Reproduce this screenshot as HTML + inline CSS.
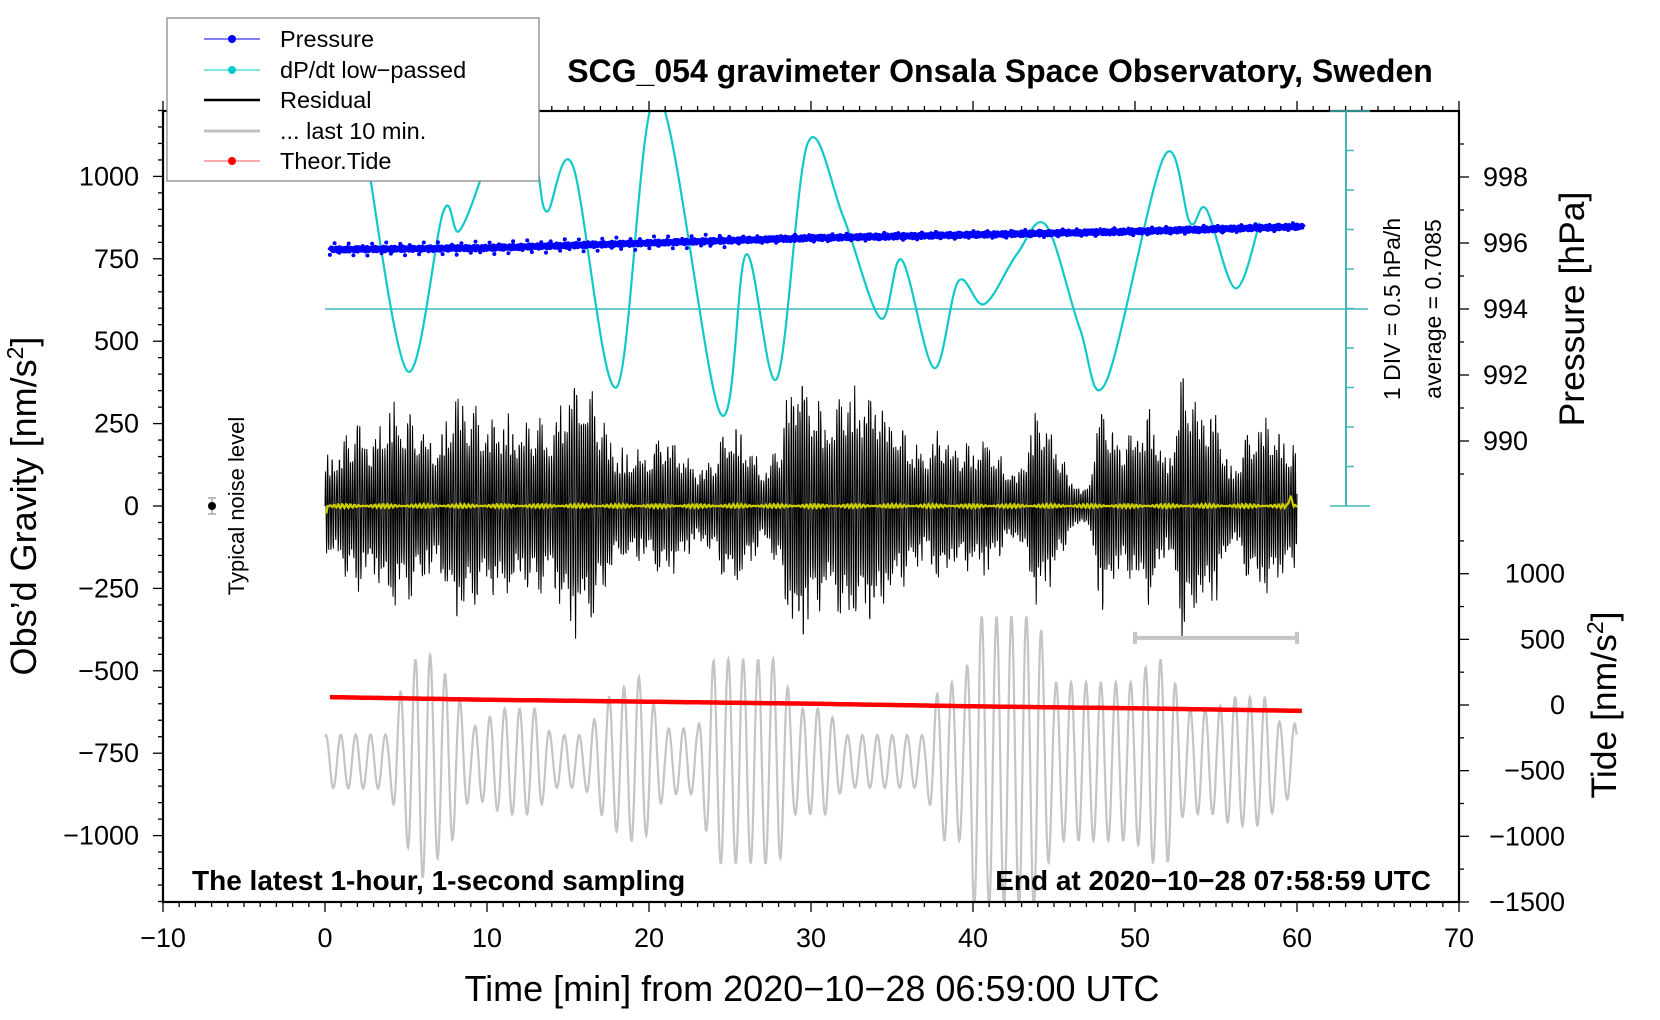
<!DOCTYPE html>
<html><head><meta charset="utf-8"><style>
html,body{margin:0;padding:0;background:#fff;}
svg{display:block;font-family:"Liberation Sans",Arial,sans-serif;}
</style></head><body>
<svg id="chart" width="1660" height="1020" viewBox="0 0 1660 1020" xmlns="http://www.w3.org/2000/svg">
<defs><clipPath id="plotclip"><rect x="163" y="111" width="1296" height="791"/></clipPath></defs>
<g id="series" clip-path="url(#plotclip)"></g>
<g id="axes"></g>
<text x="1000" y="82" text-anchor="middle" font-size="32" font-weight="bold">SCG_054 gravimeter Onsala Space Observatory, Sweden</text>
<text x="812" y="1001" text-anchor="middle" font-size="36">Time [min] from 2020−10−28 06:59:00 UTC</text>
<text transform="translate(36,506) rotate(-90)" text-anchor="middle" font-size="36">Obs’d Gravity [nm/s<tspan font-size="23" dy="-13">2</tspan><tspan dy="13">]</tspan></text>
<text transform="translate(1584,309) rotate(-90)" text-anchor="middle" font-size="35.5">Pressure [hPa]</text>
<text transform="translate(1616,705) rotate(-90)" text-anchor="middle" font-size="35.5">Tide [nm/s<tspan font-size="23" dy="-13">2</tspan><tspan dy="13">]</tspan></text>
<text transform="translate(1400,309) rotate(-90)" text-anchor="middle" font-size="23">1 DIV = 0.5 hPa/h</text>
<text transform="translate(1441,309) rotate(-90)" text-anchor="middle" font-size="23">average = 0.7085</text>
<text transform="translate(244,506) rotate(-90)" text-anchor="middle" font-size="22">Typical noise level</text>
<line x1="212" y1="498" x2="212" y2="514" stroke="#bbb" stroke-width="2"/>
<line x1="208" y1="498" x2="216" y2="498" stroke="#bbb" stroke-width="2"/>
<line x1="208" y1="514" x2="216" y2="514" stroke="#bbb" stroke-width="2"/>
<circle cx="212" cy="506" r="4" fill="#000"/>
<text x="192" y="890" font-size="28" font-weight="bold">The latest 1-hour, 1-second sampling</text>
<text x="1431" y="890" text-anchor="end" font-size="28" font-weight="bold">End at 2020−10−28 07:58:59 UTC</text>
<g>
<rect x="167" y="18" width="372" height="163" fill="#fff" stroke="#888" stroke-width="1.3"/>
<g><line x1="204" y1="39" x2="260" y2="39" stroke="#00f" stroke-width="1"/><circle cx="232" cy="39" r="4" fill="#00f"/><text x="280" y="47" font-size="23.5">Pressure</text></g>
<g><line x1="204" y1="70" x2="260" y2="70" stroke="#0cc" stroke-width="1"/><circle cx="232" cy="70" r="4" fill="#0cc"/><text x="280" y="78" font-size="23.5">dP/dt low−passed</text></g>
<g><line x1="204" y1="100" x2="260" y2="100" stroke="#000" stroke-width="2.5"/><text x="280" y="108" font-size="23.5">Residual</text></g>
<g><line x1="204" y1="131" x2="260" y2="131" stroke="#c0c0c0" stroke-width="3"/><text x="280" y="139" font-size="23.5">... last 10 min.</text></g>
<g><line x1="204" y1="161" x2="260" y2="161" stroke="#f55" stroke-width="1"/><circle cx="232" cy="161" r="4" fill="#f00"/><text x="280" y="169" font-size="23.5">Theor.Tide</text></g>
</g>
</svg>
<script>
// ---- data ----
const residualEnvMin = [0,1,2,3,4,5,6,7,8,9,10,11,12,13,14,15,16,17,18,19,20,21,22,23,24,25,26,27,28,29,30,31,32,33,34,35,36,37,38,39,40,41,42,43,44,45,46,47,48,49,50,51,52,53,54,55,56,57,58,59,60];
const residualEnv = [150,200,280,220,330,300,260,200,380,320,280,300,260,280,250,400,420,300,180,180,180,240,180,120,160,280,220,120,200,470,380,300,380,370,370,300,230,170,260,200,200,220,130,130,340,220,100,50,360,200,270,320,130,450,330,310,110,250,300,230,200];
const last10Min = [0,2,4,4.5,6,8,9,11,13,14,16,17.5,19.5,21,23,24,28,29,31,32,37,38,39.5,40,44,45,47,48,50,51,52,53,55,56,58,59,60];
const last10Amp = [80,82,82,195,355,230,100,160,160,80,80,195,260,100,100,310,310,160,160,80,80,240,240,440,440,240,240,240,240,310,310,160,160,195,195,115,115];
const pressureMin = [0.3,10,20,30,40,50,60.5];
const pressureHPa = [995.8,995.85,996.0,996.15,996.25,996.35,996.5];
const dpdtMin = [2.5,5.1,7.3,8.3,10.0,11.5,13.0,13.7,15.3,18.0,20.5,24.4,26.0,27.9,29.8,32.0,34.3,35.6,37.6,39.1,40.7,42.7,44.5,46.6,48.2,51.8,53.4,54.4,56.2,57.7];
const dpdtVal = [2.75,-0.08,1.94,1.70,2.61,3.81,2.61,1.94,2.52,-0.28,3.42,-0.61,1.40,-0.17,2.81,1.87,0.59,1.33,-0.04,1.06,0.77,1.40,1.77,0.46,-0.22,2.64,1.80,1.97,0.97,1.80];
const tideMin = [0.3,10,20,30,40,50,60.5];
const tideVal = [60,40,25,10,-10,-25,-45];
const xTicks = [-10,0,10,20,30,40,50,60,70];
const leftTicks = [-1000,-750,-500,-250,0,250,500,750,1000];
const pressureTicks = [990,992,994,996,998];
const tideTicks = [-1500,-1000,-500,0,500,1000];
const dpdtAverage = 0.7085;
// ---- scales ----
const xs = t => 163 + (t + 10) * 16.2;
const yL = v => 506 - v * 0.3296;
const yP = p => 111 + (1000 - p) * 33;
const yT = v => 705 - v * 0.1313;
const yC = v => 309 - (v - dpdtAverage) * 79;
const NS = 'http://www.w3.org/2000/svg';
function mk(tag, attrs, parent){const e=document.createElementNS(NS,tag);for(const k in attrs)e.setAttribute(k,attrs[k]);parent.appendChild(e);return e;}
function lerp(xa, ya, t){if(t<=xa[0])return ya[0];for(let i=1;i<xa.length;i++){if(t<=xa[i]){const f=(t-xa[i-1])/(xa[i]-xa[i-1]);return ya[i-1]+f*(ya[i]-ya[i-1]);}}return ya[ya.length-1];}
const S = document.getElementById('series');
const A = document.getElementById('axes');
// dP/dt
let bl = mk('line',{x1:xs(0),y1:yC(dpdtAverage),x2:1368,y2:yC(dpdtAverage),stroke:'#40b8b8','stroke-width':1.5},S);


let d='';
const P = dpdtMin.map((t,i)=>[xs(t),yC(dpdtVal[i])]);
d='M'+P[0][0]+','+P[0][1];
for(let i=0;i<P.length-1;i++){const p0=P[Math.max(0,i-1)],p1=P[i],p2=P[i+1],p3=P[Math.min(P.length-1,i+2)];
d+=' C'+(p1[0]+(p2[0]-p0[0])/6).toFixed(1)+','+(p1[1]+(p2[1]-p0[1])/6).toFixed(1)+' '+(p2[0]-(p3[0]-p1[0])/6).toFixed(1)+','+(p2[1]-(p3[1]-p1[1])/6).toFixed(1)+' '+p2[0].toFixed(1)+','+p2[1].toFixed(1);}
let cy = mk('path',{d:d,fill:'none',stroke:'#10c8c8','stroke-width':2.2},S);


// pressure
d='';
for(let t=pressureMin[0];t<=pressureMin[pressureMin.length-1];t+=0.1){d+=(d?' L':'M')+xs(t).toFixed(1)+','+yP(lerp(pressureMin,pressureHPa,t)+0.04*Math.sin(t*37)).toFixed(1);}
let pl = mk('path',{d:d,fill:'none',stroke:'#0000ff','stroke-width':6,'stroke-linejoin':'round'},S);


for(let t=pressureMin[0];t<pressureMin[pressureMin.length-1];t+=0.29){
const off=(Math.sin(t*13.7)*0.14)*(t<25?1.4:0.8);
let c=mk('circle',{cx:xs(t).toFixed(1),cy:yP(lerp(pressureMin,pressureHPa,t)+off).toFixed(1),r:2,fill:'#00f'},S);


}
// residual
d='';
for(let t=0;t<=60;t+=1/60){
const mod=0.55+0.45*Math.abs(Math.sin(t*7.3+2*Math.sin(t*1.7))*Math.sin(t*3.1+1));
const env=lerp(residualEnvMin,residualEnv,t)*mod;
const v=env*Math.sin(2*Math.PI*7.1*t+0.8*Math.sin(t*4.3));
d+=(d?' L':'M')+xs(t).toFixed(1)+','+yL(v).toFixed(1);}
let rl = mk('path',{d:d,fill:'none',stroke:'#000','stroke-width':1},S);


// yellow filtered
d='';
for(let t=0;t<=60;t+=0.05){let v=(t<0.15?-20:0)+6*Math.sin(t*25)*Math.abs(Math.sin(t*1.3));if(t>59.4&&t<59.8)v+=25*Math.sin((t-59.4)/0.4*Math.PI);
d+=(d?' L':'M')+xs(t).toFixed(1)+','+yL(v).toFixed(1);}
let yl = mk('path',{d:d,fill:'none',stroke:'#cccc00','stroke-width':2.2},S);


// last 10 min gray
d='';
for(let t=0;t<=60;t+=0.03){const v=-775+lerp(last10Min,last10Amp,t)*Math.sin(2*Math.PI*t/0.92+1.2);
d+=(d?' L':'M')+xs(t).toFixed(1)+','+yL(v).toFixed(1);}
let gl = mk('path',{d:d,fill:'none',stroke:'#c4c4c4','stroke-width':2.2},S);


const by=yL(-400);
let gb = mk('path',{d:'M'+xs(50)+','+by+' H'+xs(60)+' M'+xs(50)+','+(by-6)+' V'+(by+6)+' M'+xs(60)+','+(by-6)+' V'+(by+6),stroke:'#c4c4c4','stroke-width':4,fill:'none'},S);


// tide
d='';
for(let t=tideMin[0];t<=tideMin[tideMin.length-1];t+=0.25){d+=(d?' L':'M')+xs(t).toFixed(1)+','+yT(lerp(tideMin,tideVal,t)).toFixed(1);}
let tl = mk('path',{d:d,fill:'none',stroke:'#ff0000','stroke-width':4.5},S);


// ---- axes ----
let fr = mk('rect',{x:163,y:111,width:1296,height:791,fill:'none',stroke:'#000','stroke-width':2.2},A);


for(let t=-10;t<=70;t++){const maj=t%10===0,L=maj?10:5;
mk('line',{x1:xs(t),y1:902,x2:xs(t),y2:902+L,stroke:'#000','stroke-width':1.3},A);
mk('line',{x1:xs(t),y1:111,x2:xs(t),y2:111-L,stroke:'#000','stroke-width':1.3},A);}
xTicks.forEach(t=>{let e=mk('text',{x:xs(t),y:947,'text-anchor':'middle','font-size':27},A);e.textContent=(t<0?'−':'')+Math.abs(t);

});
for(let v=-1200;v<=1200;v+=50){const maj=v%250===0,L=maj?10:5;mk('line',{x1:163,y1:yL(v),x2:163-L,y2:yL(v),stroke:'#000','stroke-width':1.3},A);}
leftTicks.forEach(v=>{let e=mk('text',{x:139,y:yL(v)+9,'text-anchor':'end','font-size':27},A);e.textContent=(v<0?'−':'')+Math.abs(v);

});
for(let p=989;p<=999;p++){const maj=p%2===0,L=maj?10:5;mk('line',{x1:1459,y1:yP(p),x2:1459+L,y2:yP(p),stroke:'#000','stroke-width':1.3},A);}
pressureTicks.forEach(p=>{let e=mk('text',{x:1483,y:yP(p)+9,'font-size':27},A);e.textContent=p;

});
for(let v=-1500;v<=1250;v+=250){const maj=v%500===0,L=maj?10:5;mk('line',{x1:1459,y1:yT(v),x2:1459+L,y2:yT(v),stroke:'#000','stroke-width':1.3},A);}
tideTicks.forEach(v=>{let e=mk('text',{x:1565,y:yT(v)+9,'text-anchor':'end','font-size':27},A);e.textContent=(v<0?'−':'')+Math.abs(v);

});
let ca = mk('line',{x1:1346,y1:111,x2:1346,y2:506,stroke:'#40b8b8','stroke-width':2},A);


for(let i=0;i<=10;i++){const y=111+i*39.5;const w=(i===0||i===10)?16:0;mk('line',{x1:1346-w,y1:y,x2:1354+w,y2:y,stroke:'#40b8b8','stroke-width':1.5},A);}
</script>
</body></html>
